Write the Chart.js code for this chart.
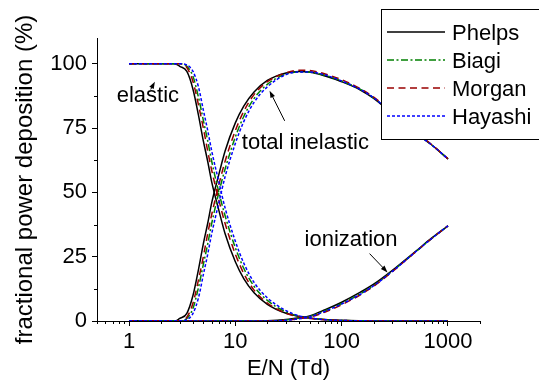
<!DOCTYPE html>
<html>
<head>
<meta charset="utf-8">
<script src="https://cdn.jsdelivr.net/npm/chart.js@4.4.1/dist/chart.umd.min.js"></script>
<style>
    html, body { margin: 0; padding: 0; background: #fff; }
    #wrap { width: 539px; height: 384px; }
</style>
</head>
<body>
<div id="wrap"><canvas id="chart" width="539" height="384"></canvas></div>
<script>
// E/N (Td)
const eN = [1, 2, 2.7, 3, 3.5, 4, 4.5, 5, 5.5, 6, 7, 8, 10, 12, 15, 20, 30, 40, 50, 70, 100, 150, 200, 300, 500, 700, 1000];

const phelpsElastic = [100, 100, 100, 99, 97, 90, 80, 70, 62, 54, 43, 34, 23, 16.5, 11, 6.5, 3, 1.8, 1.2, 0.6, 0.3, 0.1, 0, 0, 0, 0, 0];
const phelpsInelastic = [0, 0, 0, 1, 3, 10, 20, 30, 38, 46, 57, 66, 77, 83.5, 89, 93.5, 96.4, 97, 96.8, 95.2, 93, 89.8, 86.5, 80.5, 73, 68.5, 63];
const phelpsIonization = [0, 0, 0, 0, 0, 0, 0, 0, 0, 0, 0, 0, 0, 0, 0, 0.1, 0.6, 1.3, 2, 4.4, 7.3, 11.2, 14.3, 19.7, 27.2, 32.2, 37];

const biagiElastic = [100, 100, 100, 100, 99, 95, 87, 78, 70, 62, 50, 41, 28.5, 20.5, 13.5, 8, 3.5, 1.8, 1.1, 0.5, 0.2, 0.1, 0, 0, 0, 0, 0];
const biagiInelastic = [0, 0, 0, 0, 1, 5, 13, 22, 30, 38, 50, 59, 71.5, 79.5, 86.5, 92, 96, 96.8, 96.7, 95.5, 93.3, 90, 86.7, 80.8, 73, 68.5, 63];
const biagiIonization = [0, 0, 0, 0, 0, 0, 0, 0, 0, 0, 0, 0, 0, 0, 0, 0, 0.4, 1.1, 1.8, 4, 6.8, 10.6, 13.8, 19.4, 27, 32, 37];

const morganElastic = [100, 100, 100, 100, 98.5, 93, 84, 75, 66, 58.5, 47, 38, 26, 18.5, 12, 7, 3, 1.6, 1, 0.5, 0.2, 0.1, 0, 0, 0, 0, 0];
const morganInelastic = [0, 0, 0, 0, 1.5, 7, 16, 25, 34, 41.5, 53, 62, 74, 81.5, 88, 93, 96.5, 97.5, 97.4, 96, 93.8, 90.3, 87, 81, 73.3, 68.6, 63];
const morganIonization = [0, 0, 0, 0, 0, 0, 0, 0, 0, 0, 0, 0, 0, 0, 0, 0, 0.3, 0.9, 1.5, 3.5, 6.3, 10.2, 13.5, 19.2, 27, 32, 37];

const hayashiElastic = [100, 100, 100, 100, 99.5, 97, 91, 82, 74, 66, 54, 44, 31, 22.5, 15, 9, 4, 2, 1.2, 0.5, 0.2, 0.1, 0, 0, 0, 0, 0];
const hayashiInelastic = [0, 0, 0, 0, 0.5, 3, 9, 18, 26, 34, 46, 56, 69, 77.5, 85, 91, 95.8, 96.8, 96.8, 95.6, 93.3, 90, 86.7, 80.8, 73, 68.5, 63];
const hayashiIonization = [0, 0, 0, 0, 0, 0, 0, 0, 0, 0, 0, 0, 0, 0, 0, 0, 0.3, 0.9, 1.6, 3.8, 6.6, 10.4, 13.7, 19.3, 27, 32, 37];

const xMajor = [1, 10, 100, 1000];
const xMinor = [0.5, 0.6, 0.7, 0.8, 0.9, 2, 3, 4, 5, 6, 7, 8, 9, 20, 30, 40, 50, 60, 70, 80, 90,
    200, 300, 400, 500, 600, 700, 800, 900, 2000];
const yMajor = [0, 25, 50, 75, 100];
const yMinor = [12.5, 37.5, 62.5, 87.5];

const seriesNames = ['Phelps', 'Biagi', 'Morgan', 'Hayashi'];
const seriesCurves = [
    [phelpsElastic, phelpsInelastic, phelpsIonization],
    [biagiElastic, biagiInelastic, biagiIonization],
    [morganElastic, morganInelastic, morganIonization],
    [hayashiElastic, hayashiInelastic, hayashiIonization]
];
const seriesColors = ['#000000', '#008000', '#990000', '#0000ff'];
const seriesDash = [[], [7, 2.5, 2, 2.5], [7, 4.5], [3, 2]];

const FONT = '"Liberation Sans", Arial, sans-serif';

const labels = [
    { text: 'elastic', x: 0.766, y: 85 },
    { text: 'total inelastic', x: 11.5, y: 66.7 },
    { text: 'ionization', x: 44.8, y: 29 }
];
const arrows = [
    { from: [1.6, 90], to: [1.75, 93] },
    { from: [29.1, 77.8], to: [21, 89.5] },
    { from: [183, 26.2], to: [270, 18.9] }
];

const datasets = [];
seriesCurves.forEach((curves, k) => {
    curves.forEach(values => {
        datasets.push({
            label: seriesNames[k],
            data: values.map((v, i) => ({ x: eN[i], y: v })),
            borderColor: seriesColors[k],
            borderDash: seriesDash[k],
            borderWidth: 1.5,
            pointRadius: 0,
            fill: false,
            cubicInterpolationMode: 'monotone',
            order: seriesNames.length - k
        });
    });
});

function drawArrow(ctx, x1, y1, x2, y2) {
    const a = Math.atan2(y2 - y1, x2 - x1);
    const len = 7, half = 2.5;
    ctx.beginPath();
    ctx.moveTo(x1, y1);
    ctx.lineTo(x2 - len * 0.8 * Math.cos(a), y2 - len * 0.8 * Math.sin(a));
    ctx.stroke();
    ctx.beginPath();
    ctx.moveTo(x2, y2);
    ctx.lineTo(x2 - len * Math.cos(a) + half * Math.sin(a), y2 - len * Math.sin(a) - half * Math.cos(a));
    ctx.lineTo(x2 - len * Math.cos(a) - half * Math.sin(a), y2 - len * Math.sin(a) + half * Math.cos(a));
    ctx.closePath();
    ctx.fill();
}

const minorTicks = {
    id: 'minorTicks',
    afterDraw(chart) {
        const { ctx, scales: { x, y } } = chart;
        ctx.save();
        ctx.strokeStyle = '#000';
        ctx.lineWidth = 1;
        ctx.beginPath();
        xMinor.forEach(v => {
            const px = Math.round(x.getPixelForValue(v)) + 0.5;
            ctx.moveTo(px, x.top);
            ctx.lineTo(px, x.top + 3);
        });
        yMinor.forEach(v => {
            const py = Math.round(y.getPixelForValue(v)) + 0.5;
            ctx.moveTo(y.right - 3, py);
            ctx.lineTo(y.right, py);
        });
        ctx.stroke();
        ctx.restore();
    }
};

const notes = {
    id: 'notes',
    afterDatasetsDraw(chart) {
        const { ctx, scales: { x, y } } = chart;
        ctx.save();
        ctx.fillStyle = '#000';
        ctx.strokeStyle = '#000';
        ctx.lineWidth = 1;
        ctx.font = '22px ' + FONT;
        ctx.textBaseline = 'alphabetic';
        ctx.textAlign = 'left';
        labels.forEach(l => ctx.fillText(l.text, x.getPixelForValue(l.x), y.getPixelForValue(l.y)));
        arrows.forEach(a => drawArrow(ctx,
            x.getPixelForValue(a.from[0]), y.getPixelForValue(a.from[1]),
            x.getPixelForValue(a.to[0]), y.getPixelForValue(a.to[1])));
        ctx.restore();
    }
};

const boxLegend = {
    id: 'boxLegend',
    afterDraw(chart) {
        const ctx = chart.ctx;
        ctx.save();
        ctx.fillStyle = '#fff';
        ctx.fillRect(381, 9, 170, 130);
        ctx.strokeStyle = '#000';
        ctx.lineWidth = 1;
        ctx.strokeRect(381.5, 9.5, 170, 130);
        ctx.font = '22px ' + FONT;
        ctx.textBaseline = 'alphabetic';
        seriesNames.forEach((name, k) => {
            const ly = 32 + k * 28;
            ctx.strokeStyle = seriesColors[k];
            ctx.lineWidth = 1.5;
            ctx.setLineDash(seriesDash[k]);
            ctx.beginPath();
            ctx.moveTo(387, ly);
            ctx.lineTo(445, ly);
            ctx.stroke();
            ctx.setLineDash([]);
            ctx.fillStyle = '#000';
            ctx.fillText(name, 452, ly + 7.5);
        });
        ctx.restore();
    }
};

new Chart(document.getElementById('chart'), {
    type: 'line',
    data: { datasets: datasets },
    options: {
        responsive: false,
        animation: false,
        devicePixelRatio: 1,
        layout: { padding: { top: 38, right: 59, left: 0, bottom: 0 } },
        plugins: {
            legend: { display: false },
            tooltip: { enabled: false }
        },
        scales: {
            x: {
                type: 'logarithmic',
                min: 0.5,
                max: 2000,
                afterBuildTicks: axis => { axis.ticks = xMajor.map(v => ({ value: v, major: true })); },
                afterFit: axis => { axis.height = 63; },
                ticks: {
                    autoSkip: false,
                    maxRotation: 0,
                    padding: 3,
                    color: '#000',
                    font: { family: FONT, size: 22 },
                    callback: v => String(v)
                },
                grid: { drawOnChartArea: false, tickLength: 5, tickColor: '#000', tickWidth: 1 },
                border: { display: true, color: '#000', width: 1 },
                title: {
                    display: true,
                    text: 'E/N (Td)',
                    color: '#000',
                    font: { family: FONT, size: 22 },
                    padding: { top: 0, bottom: 2 }
                }
            },
            y: {
                type: 'linear',
                min: 0,
                max: 110,
                afterBuildTicks: axis => { axis.ticks = yMajor.map(v => ({ value: v })); },
                afterFit: axis => { axis.width = 97; },
                ticks: {
                    padding: 5,
                    color: '#000',
                    font: { family: FONT, size: 22 },
                    callback: v => String(v)
                },
                grid: { drawOnChartArea: false, tickLength: 5, tickColor: '#000', tickWidth: 1 },
                border: { display: true, color: '#000', width: 1 },
                title: {
                    display: true,
                    text: 'fractional power deposition (%)',
                    color: '#000',
                    font: { family: FONT, size: 24 },
                    padding: { top: 11, bottom: 0 }
                }
            }
        }
    },
    plugins: [minorTicks, notes, boxLegend]
});
</script>
</body>
</html>
